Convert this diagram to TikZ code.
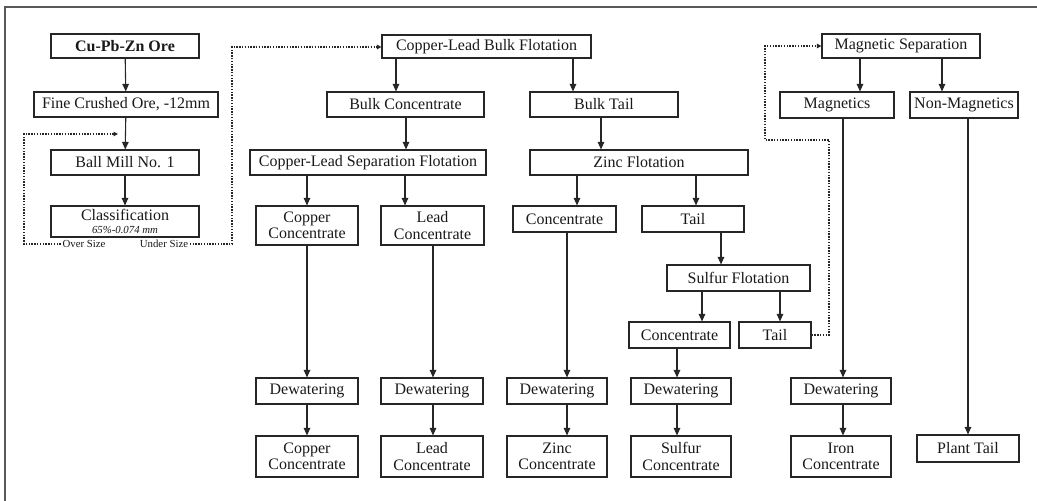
\documentclass[tikz,border=0pt]{standalone}
\usepackage{fontspec}
\setmainfont{Liberation Serif}
\usetikzlibrary{arrows.meta,calc}
\tikzset{
  x=1pt,y=-1pt,
  box/.style={draw=black!85,line width=1.1pt,inner sep=0pt,align=center,
    font=\fontsize{16}{16.5}\selectfont,text=black!90},
  arr/.style={draw=black!85,line width=1.1pt,-{Triangle[length=7.5pt,width=6.5pt]}},
  recycle/.style={draw=black!85,line width=1.2pt,dash pattern=on 1.4pt off 1.4pt,
    -{Triangle[length=4.5pt,width=4.5pt]}},
  note/.style={font=\fontsize{10.8}{11}\selectfont,text=black!90,inner sep=1.5pt},
  frameline/.style={draw=black!65,line width=1.6pt}
}
% process box from its corner coordinates (x1,y1)-(x2,y2)
\newcommand\mk[6]{\node[box,minimum width={#4-#2},minimum height={#5-#3}] (#1) at ({(#2+#4)/2},{(#3+#5)/2}) {#6};}
\begin{document}
\begin{tikzpicture}
\useasboundingbox (0,0) rectangle (1037,501);
\draw[frameline] (1040,7) -- (5,7) -- (5,504);

% grinding circuit
\mk{ore}{51}{34}{199}{58}{\textbf{Cu-Pb-Zn Ore}}
\mk{fine}{34}{92}{218}{117}{Fine Crushed Ore, -12mm}
\mk{ball}{51}{150}{199}{175}{Ball Mill No. 1}
\mk{cls}{51}{206}{199}{237}{Classification\\[-4pt]{\fontsize{10.8}{11}\selectfont\itshape 65\%-0.074 mm}}
\node[note] (over) at (84,244) {Over Size};
\node[note] (under) at (164,244) {Under Size};

% copper-lead circuit
\mk{clbf}{382}{35}{591}{58}{Copper-Lead Bulk Flotation}
\mk{bconc}{327}{92}{484}{117}{Bulk Concentrate}
\mk{btail}{530}{92}{678}{117}{Bulk Tail}
\mk{clsf}{250}{150}{486}{175}{Copper-Lead Separation Flotation}
\mk{cuc}{256}{206}{358}{245}{Copper\\Concentrate}
\mk{pbc}{381}{206}{484}{245}{Lead\\Concentrate}

% zinc and sulfur circuit
\mk{znf}{530}{150}{748}{175}{Zinc Flotation}
\mk{znc}{513}{206}{616}{232}{Concentrate}
\mk{znt}{642}{206}{744}{232}{Tail}
\mk{sf}{667}{265}{810}{291}{Sulfur Flotation}
\mk{sc}{629}{322}{730}{348}{Concentrate}
\mk{st}{739}{322}{811}{348}{Tail}

% magnetic circuit
\mk{ms}{822}{34}{980}{58}{Magnetic Separation}
\mk{mag}{780}{92}{894}{118}{Magnetics}
\mk{nmag}{910}{92}{1018}{118}{Non-Magnetics}

% dewatering
\mk{dcu}{256}{378}{358}{404}{Dewatering}
\mk{dpb}{381}{378}{483}{404}{Dewatering}
\mk{dzn}{507}{378}{607}{404}{Dewatering}
\mk{ds}{631}{378}{731}{404}{Dewatering}
\mk{dfe}{791}{378}{891}{404}{Dewatering}

% products
\mk{pcu}{256}{436}{358}{477}{Copper\\Concentrate}
\mk{ppb}{381}{436}{483}{477}{Lead\\Concentrate}
\mk{pzn}{507}{436}{607}{477}{Zinc\\Concentrate}
\mk{ps}{631}{436}{731}{477}{Sulfur\\Concentrate}
\mk{pfe}{791}{436}{891}{477}{Iron\\Concentrate}
\mk{ptail}{917}{435}{1019}{462}{Plant Tail}

% main flow
\draw[arr] (ore) -- (fine);
\draw[arr] (fine) -- (ball);
\draw[arr] (ball) -- (cls);
\draw[arr] (clbf.south -| 396,0) -- (bconc.north -| 396,0);
\draw[arr] (clbf.south -| 573,0) -- (btail.north -| 573,0);
\draw[arr] (bconc.south -| 406,0) -- (clsf.north -| 406,0);
\draw[arr] (btail.south -| 601,0) -- (znf.north -| 601,0);
\draw[arr] (clsf.south -| 307,0) -- (cuc.north -| 307,0);
\draw[arr] (clsf.south -| 405,0) -- (pbc.north -| 405,0);
\draw[arr] (cuc.south -| 307,0) -- (dcu.north -| 307,0);
\draw[arr] (pbc.south -| 433,0) -- (dpb.north -| 433,0);
\draw[arr] (dcu.south -| 307,0) -- (pcu.north -| 307,0);
\draw[arr] (dpb.south -| 433,0) -- (ppb.north -| 433,0);
\draw[arr] (znf.south -| 577,0) -- (znc.north -| 577,0);
\draw[arr] (znf.south -| 696,0) -- (znt.north -| 696,0);
\draw[arr] (znc.south -| 567,0) -- (dzn.north -| 567,0);
\draw[arr] (dzn.south -| 567,0) -- (pzn.north -| 567,0);
\draw[arr] (znt.south -| 721,0) -- (sf.north -| 721,0);
\draw[arr] (sf.south -| 702,0) -- (sc.north -| 702,0);
\draw[arr] (sf.south -| 780,0) -- (st.north -| 780,0);
\draw[arr] (sc.south -| 677,0) -- (ds.north -| 677,0);
\draw[arr] (ds.south -| 677,0) -- (ps.north -| 677,0);
\draw[arr] (ms.south -| 860,0) -- (mag.north -| 860,0);
\draw[arr] (ms.south -| 942,0) -- (nmag.north -| 942,0);
\draw[arr] (mag.south -| 843,0) -- (dfe.north -| 843,0);
\draw[arr] (dfe.south -| 843,0) -- (pfe.north -| 843,0);
\draw[arr] (nmag.south -| 968,0) -- (ptail.north -| 968,0);

% recycle and transfer lines
\coordinate (ballin) at (118,134);
\draw[recycle] (over.west) -- (24,244) -- (24,134) -- (ballin);
\draw[recycle] (under.east) -- (232,244) -- (232,47) -- (clbf.west |- 0,47);
\draw[recycle] (st.east) -- (829,335) -- (829,140) -- (765,140) -- (765,46) -- (ms.west);
\end{tikzpicture}
\end{document}
